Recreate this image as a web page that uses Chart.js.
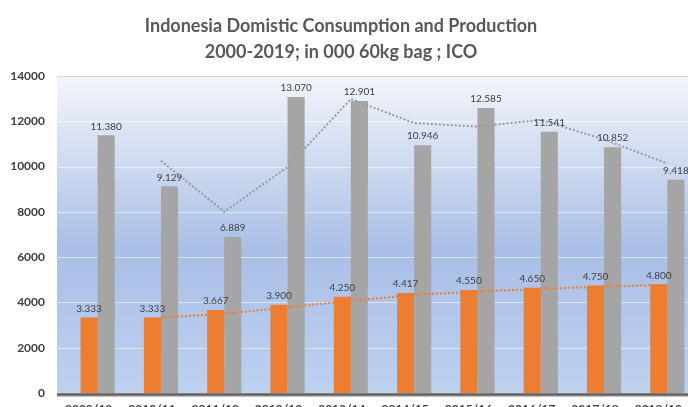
<!DOCTYPE html>
<html>
<head>
<meta charset="utf-8">
<script src="https://cdn.jsdelivr.net/npm/chart.js@4"></script>
<style>
	html, body { margin:0; padding:0; background:#fff; overflow:hidden; }
	#wrap { position:absolute; left:0; top:0; width:688px; height:407px; overflow:hidden; }
	#c { position:absolute; left:0; top:0; }
</style>
</head>
<body>
<div id="wrap"><canvas id="c" width="720" height="425"></canvas></div>
<script>
const labels = ['2009/10','2010/11','2011/12','2012/13','2013/14','2014/15','2015/16','2016/17','2017/18','2018/19']
const consumption = [3333, 3333, 3667, 3900, 4250, 4417, 4550, 4650, 4750, 4800]
const production = [11380, 9129, 6889, 13070, 12901, 10946, 12585, 11541, 10852, 9418]
// dotted trend lines as they sit in the picture
const consTrend = [null, 3333, 3500, 3784, 4075, 4334, 4484, 4600, 4700, 4775]
const prodTrend = [null, 10255, 8009, 9980, 12986, 11924, 11766, 12063, 11197, 10135]
const titleLines = ['Indonesia Domistic Consumption and Production', '2000-2019; in 000 60kg bag ; ICO']

const fmt = v => String(v).replace(/\B(?=(\d{3})+(?!\d))/g, '.')

const plotBg = {
	id: 'plotBg',
	beforeDatasetsDraw: c => {
		const {ctx, chartArea: a, scales: {y}} = c
		const left = 57
		ctx.save()
		const g = ctx.createLinearGradient(0, a.top, 0, a.bottom)
		g.addColorStop(0, '#f3f5fa')
		g.addColorStop(0.55, '#a9bfe6')
		g.addColorStop(1, '#bdd1f0')
		ctx.fillStyle = g
		ctx.fillRect(left, a.top, a.right - left, a.bottom - a.top)
		y.ticks.forEach(t => {
			const p = Math.round(y.getPixelForValue(t.value)) + 0.5
			ctx.strokeStyle = t.value == 14000 ? '#d4d4d4' : 'rgba(255,255,255,0.55)'
			ctx.lineWidth = 1
			ctx.beginPath(); ctx.moveTo(left, p); ctx.lineTo(a.right, p); ctx.stroke()
		})
		ctx.restore()
	},
	afterDatasetsDraw: c => {
		const {ctx, chartArea: a} = c
		ctx.save()
		ctx.strokeStyle = '#bdbdbd'
		ctx.lineWidth = 1
		ctx.beginPath(); ctx.moveTo(57, a.bottom + 3.5); ctx.lineTo(a.right, a.bottom + 3.5); ctx.stroke()
		ctx.strokeStyle = '#5a5a5a'
		ctx.lineWidth = 2.5
		ctx.beginPath(); ctx.moveTo(57, a.bottom + 1.5); ctx.lineTo(a.right, a.bottom + 1.5); ctx.stroke()

		// value labels above the bars
		ctx.font = '10px Lato'
		ctx.fillStyle = '#404040'
		ctx.textAlign = 'center'
		ctx.textBaseline = 'bottom'
		;[0, 1].forEach(i => {
			c.getDatasetMeta(i).data.forEach((b, j) => {
				ctx.fillText(fmt(c.data.datasets[i].data[j]), b.x, b.y - 4)
			})
		})

		// title
		ctx.font = 'bold 18px Lato'
		ctx.fillStyle = '#595959'
		ctx.textBaseline = 'alphabetic'
		ctx.fillText(titleLines[0], 341, 32)
		ctx.fillText(titleLines[1], 341, 58)
		ctx.restore()
	}
}

new Chart(document.getElementById('c'), {
	type: 'bar',
	data: {
		labels: labels,
		datasets: [{
			label: 'Consumption',
			data: consumption,
			backgroundColor: '#ed7d31',
			categoryPercentage: 0.54,
			barPercentage: 1,
			order: 2,
		}, {
			label: 'Production',
			data: production,
			backgroundColor: '#a5a5a5',
			categoryPercentage: 0.54,
			barPercentage: 1,
			order: 2,
		}, {
			type: 'line',
			label: 'Consumption trend',
			data: consTrend,
			borderColor: '#ed7d31',
			borderWidth: 2,
			borderDash: [2, 2],
			pointRadius: 0,
			fill: false,
			order: 0,
		}, {
			type: 'line',
			label: 'Production trend',
			data: prodTrend,
			borderColor: '#9a9a9a',
			borderWidth: 2,
			borderDash: [2, 2],
			pointRadius: 0,
			fill: false,
			order: 0,
		}]
	},
	options: {
		responsive: false,
		animation: false,
		layout: { padding: { top: 76, right: 21, left: 0, bottom: 0 } },
		plugins: {
			legend: { display: false },
			title: { display: false },
			tooltip: { enabled: false },
		},
		scales: {
			y: {
				min: 0, max: 14000,
				ticks: { stepSize: 2000, padding: 21, color: '#404040', font: { family: 'Lato', weight: 'bold', size: 12 },
					callback: v => String(v) },
				grid: { display: false, drawTicks: false },
				border: { display: false },
				afterFit: s => { s.width = 66 },
			},
			x: {
				ticks: { padding: 9, labelOffset: -9, maxRotation: 0, autoSkip: false, color: '#404040', font: { family: 'Lato', weight: 'bold', size: 12 } },
				grid: { display: false, drawTicks: false },
				border: { display: false },
				afterFit: s => { s.height = 32 },
			}
		}
	},
	plugins: [plotBg]
})
</script>
</body>
</html>
